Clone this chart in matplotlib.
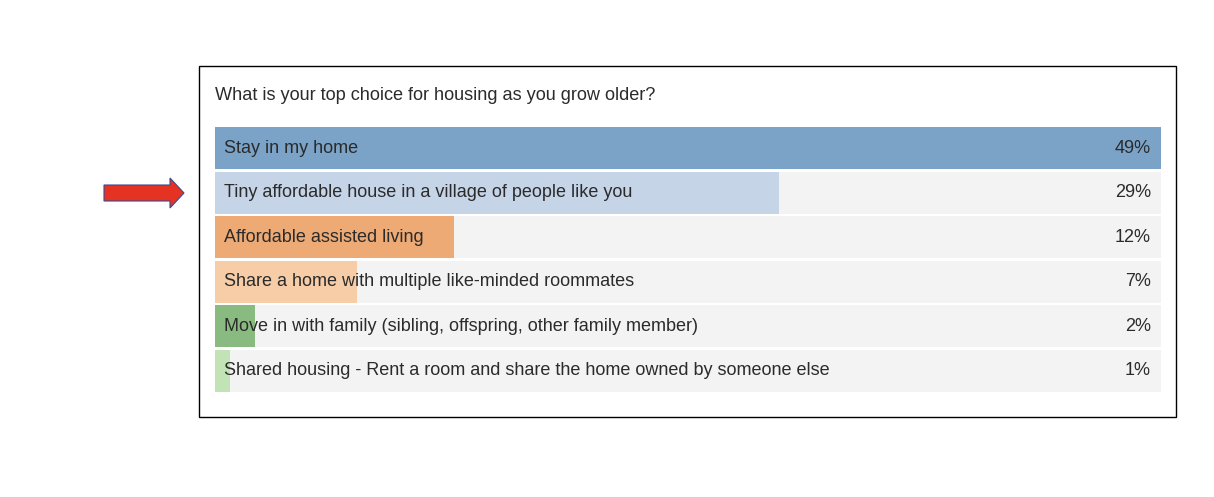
import matplotlib
matplotlib.use("Agg")
import matplotlib.pyplot as plt
from matplotlib.patches import Rectangle, Polygon

# survey results
title = "What is your top choice for housing as you grow older?"
options = [
    "Stay in my home",
    "Tiny affordable house in a village of people like you",
    "Affordable assisted living",
    "Share a home with multiple like-minded roommates",
    "Move in with family (sibling, offspring, other family member)",
    "Shared housing - Rent a room and share the home owned by someone else",
]
percent_labels = ["49%", "29%", "12%", "7%", "2%", "1%"]
# bar lengths (labels are rounded)
bar_values = [49.0, 29.2, 12.4, 7.35, 2.05, 0.8]
colors = ["#7ba3c8", "#c6d4e8", "#eeaa74", "#f6cda7", "#89bb80", "#c1e3b5"]

W, H = 1214, 497
plt.rcParams["font.family"] = ["Liberation Sans", "DejaVu Sans"]
fig = plt.figure(figsize=(W / 100, H / 100), dpi=100)

def fx(px):
    return px / W

def fy(py):
    return 1 - py / H

# outer box
fig.patches.append(Rectangle((fx(199), fy(417)), fx(1176) - fx(199), fy(66) - fy(417),
                             transform=fig.transFigure, fill=False, edgecolor="black", linewidth=1))

# red arrow pointing at the second option
arrow_pts = [(104, 185), (170, 185), (170, 178), (184, 193), (170, 208), (170, 201), (104, 201)]
fig.patches.append(Polygon([(fx(x), fy(y)) for x, y in arrow_pts], closed=True,
                           transform=fig.transFigure, facecolor="#e53323", edgecolor="#3b4b8c", linewidth=0.8))

fig.text(fx(215), fy(96), title, fontsize=13.1, color="#2b2b2b", va="center", ha="left")

ax = fig.add_axes([fx(215), fy(393), fx(1161) - fx(215), fy(126) - fy(393)])
ypos = list(range(len(options)))
top = max(bar_values)
ax.barh(ypos, [top] * len(options), height=0.945, color="#f3f3f3", zorder=1)
ax.barh(ypos, bar_values, height=0.945, color=colors, zorder=2)
for y, label, p in zip(ypos, options, percent_labels):
    ax.text(top * 0.0095, y, label, va="center", ha="left", fontsize=13, color="#2b2b2b", zorder=3)
    ax.text(top * 0.9895, y, p, va="center", ha="right", fontsize=13, color="#2b2b2b", zorder=3)
ax.set_xlim(0, top)
ax.set_ylim(len(options) - 0.5, -0.5)
ax.axis("off")

fig.savefig("out.png", dpi=100)
